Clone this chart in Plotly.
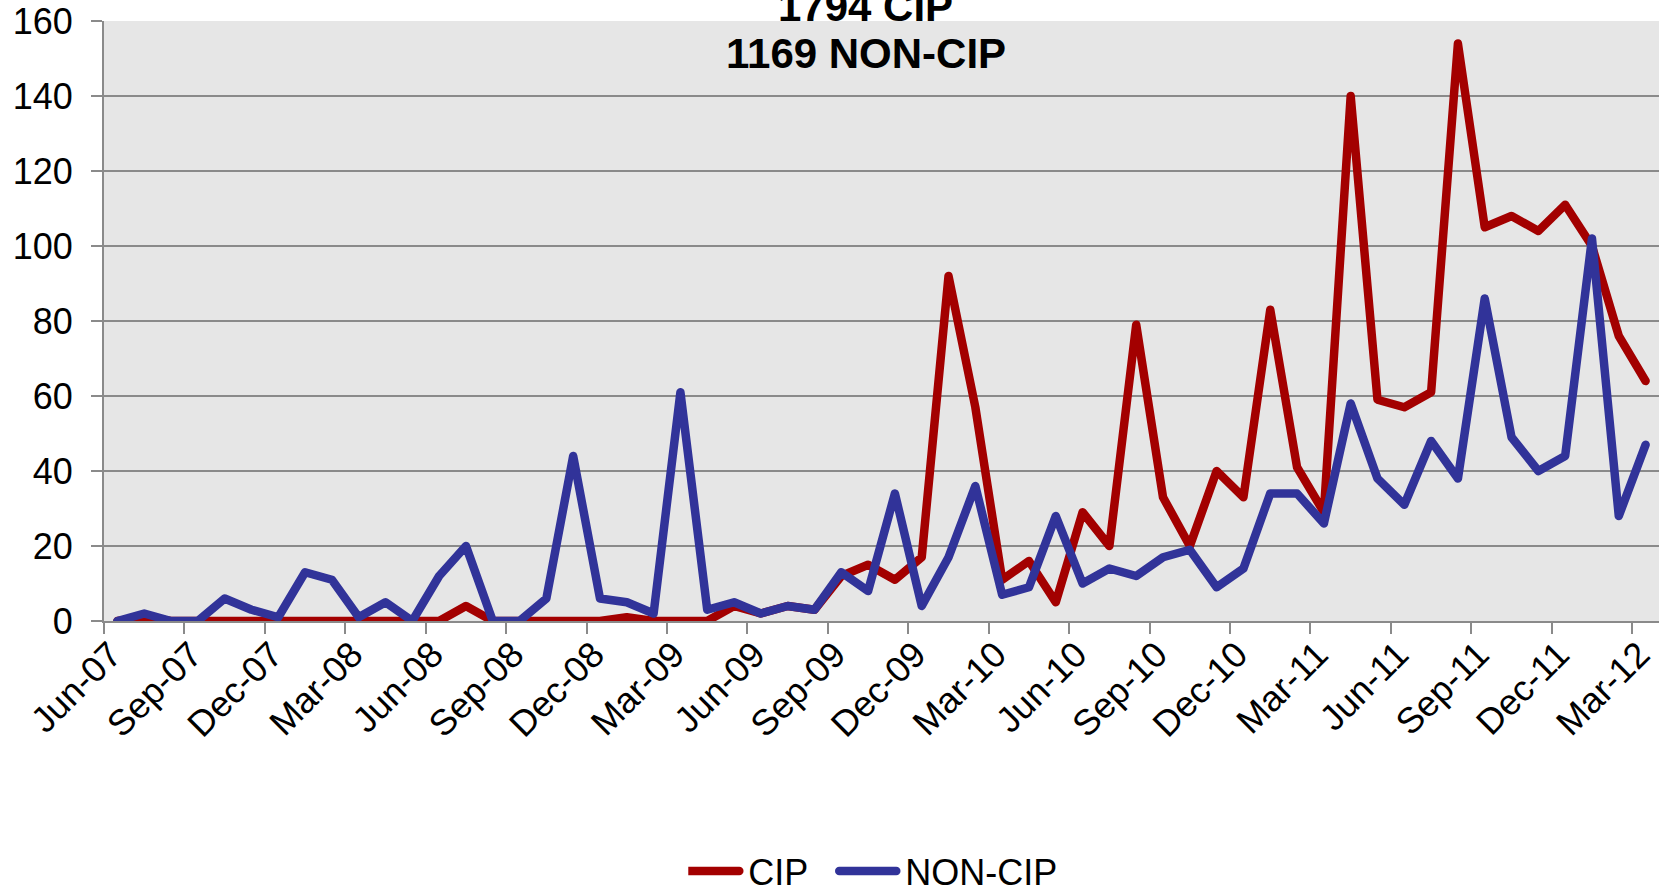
import plotly.graph_objects as go

months = [
    "Jun-07", "Jul-07", "Aug-07", "Sep-07", "Oct-07", "Nov-07", "Dec-07",
    "Jan-08", "Feb-08", "Mar-08", "Apr-08", "May-08", "Jun-08", "Jul-08", "Aug-08", "Sep-08", "Oct-08", "Nov-08", "Dec-08",
    "Jan-09", "Feb-09", "Mar-09", "Apr-09", "May-09", "Jun-09", "Jul-09", "Aug-09", "Sep-09", "Oct-09", "Nov-09", "Dec-09",
    "Jan-10", "Feb-10", "Mar-10", "Apr-10", "May-10", "Jun-10", "Jul-10", "Aug-10", "Sep-10", "Oct-10", "Nov-10", "Dec-10",
    "Jan-11", "Feb-11", "Mar-11", "Apr-11", "May-11", "Jun-11", "Jul-11", "Aug-11", "Sep-11", "Oct-11", "Nov-11", "Dec-11",
    "Jan-12", "Feb-12", "Mar-12",
]

cip = [
    0, 1, 0, 0, 0, 0, 0,
    0, 0, 0, 0, 0, 0, 4, 0, 0, 0, 0, 0,
    1, 0, 0, 0, 4, 2, 4, 3, 12, 15, 11, 17,
    92, 57, 11, 16, 5, 29, 20, 79, 33, 20, 40, 33,
    83, 41, 29, 140, 59, 57, 61, 154, 105, 108, 104, 111,
    100, 76, 64,
]

non_cip = [
    0, 2, 0, 0, 6, 3, 1,
    13, 11, 1, 5, 0, 12, 20, 0, 0, 6, 44, 6,
    5, 2, 61, 3, 5, 2, 4, 3, 13, 8, 34, 4,
    17, 36, 7, 9, 28, 10, 14, 12, 17, 19, 9, 14,
    34, 34, 26, 58, 38, 31, 48, 38, 86, 49, 40, 44,
    102, 28, 47,
]

title_lines = ["1794 CIP", "1169 NON-CIP"]
y_ticks = [0, 20, 40, 60, 80, 100, 120, 140, 160]

x_idx = list(range(len(months)))
tick_pos = [i - 0.5 for i in range(0, len(months), 3)]
tick_txt = months[::3]

FONT = "Liberation Sans, Arial, sans-serif"
GRID = "#8a8a8a"

fig = go.Figure()
fig.add_trace(go.Scatter(x=x_idx, y=cip, name="CIP", mode="lines", legendwidth=92,
                         line=dict(color="#A30000", width=8.5)))
fig.add_trace(go.Scatter(x=x_idx, y=non_cip, name="NON-CIP", mode="lines",
                         line=dict(color="#313399", width=8.5)))

fig.update_layout(
    width=1663, height=890, autosize=False,
    margin=dict(l=104, r=4, t=21, b=269, autoexpand=False),
    paper_bgcolor="white", plot_bgcolor="#E6E6E6",
    font=dict(family=FONT, size=36, color="black"),
    showlegend=True,
    legend=dict(orientation="h", x=0.496, xanchor="center", y=-0.417, yanchor="middle",
                font=dict(size=36), itemwidth=50, bgcolor="rgba(0,0,0,0)"),
    xaxis=dict(range=[-0.5, len(months) - 0.5], tickmode="array", tickvals=tick_pos, ticktext=tick_txt,
               tickangle=-45, ticks="outside", ticklen=11, tickwidth=2, tickcolor=GRID,
               showline=True, linecolor=GRID, linewidth=2, showgrid=False, zeroline=False,
               tickfont=dict(size=36), automargin=False, ticklabelstandoff=-15, ticklabelshift=7),
    yaxis=dict(range=[0, 160], tickmode="array", tickvals=y_ticks, ticks="outside", ticklen=11,
               tickwidth=2, tickcolor=GRID, showline=True, linecolor=GRID, linewidth=2,
               showgrid=True, gridcolor=GRID, gridwidth=2, zeroline=False,
               tickfont=dict(size=36), ticklabelstandoff=11, automargin=False),
)

fig.add_annotation(text="<b>%s</b>" % title_lines[0], xref="paper", yref="paper",
                   x=0.49, y=1.024, xanchor="center", yanchor="middle", showarrow=False,
                   font=dict(size=42, family=FONT, color="black"))
fig.add_annotation(text="<b>%s</b>" % title_lines[1], xref="paper", yref="paper",
                   x=0.49, y=0.9466, xanchor="center", yanchor="middle", showarrow=False,
                   font=dict(size=42, family=FONT, color="black"))

post = """
document.body.style.margin='0';
document.querySelectorAll('.js-line').forEach(function(p){
  p.style.strokeLinejoin='round'; p.style.strokeLinecap='round';
});
document.querySelectorAll('.legendlines path').forEach(function(p){
  p.setAttribute('d','M-6,0h57'); p.style.strokeLinecap='round';
});
"""
fig.write_html("out.html", post_script=post, config={"displayModeBar": False})
